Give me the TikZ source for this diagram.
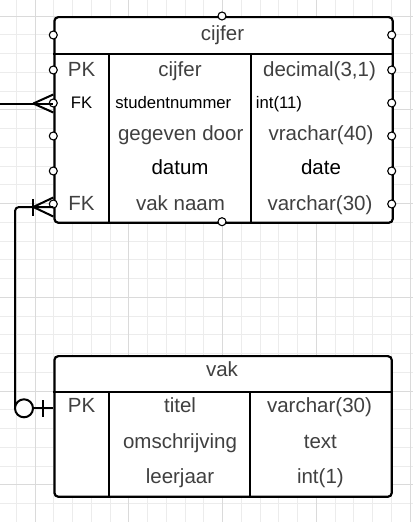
\documentclass[tikz,border=0pt]{standalone}
\usepackage{fontspec}
\setmainfont{Liberation Sans}
\definecolor{txtgray}{RGB}{64,64,64}
\definecolor{minorgray}{RGB}{236,236,236}
\definecolor{majorgray}{RGB}{218,218,218}
\begin{document}
\begin{tikzpicture}[x=1pt,y=1pt,
        field/.style={anchor=base,inner sep=0pt,text=txtgray,font=\fontsize{20.5}{24}\selectfont},
        small/.style={field,text=black,font=\fontsize{16.7}{20}\selectfont},
        dark/.style={field,text=black},
        table/.style={draw=black,fill=white,line width=2.2pt,rounded corners=4pt,inner sep=0pt,anchor=north west},
        rule/.style={line width=2.2pt},
        port/.style={draw=black,fill=white,line width=1.1pt},
        conn/.style={line width=2pt}]
    \useasboundingbox (0,0) rectangle (413,-522);
    \fill[white] (0,0) rectangle (413,-522);
    % grid paper
    \draw[minorgray,line width=1pt,shift={(16.25,-16)}] (-16.25,16) grid[step=18.75] (396.75,-506);
    \draw[majorgray,line width=1pt,shift={(35,-16)}] (-35,16) grid[step=93.75] (378,-506);

    \begin{scope}
        \node[table,minimum width=338.4pt,minimum height=205.7pt] (cijfer) at (53.3,-16) {};
        \draw[rule] (53.3,-54.3) -- (391.7,-54.3);
        \draw[rule] (109.3,-54.3) -- (109.3,-221.7);
        \draw[rule] (250.7,-54.3) -- (250.7,-221.7);

        \node[field] (cijferhead) at (222.5,-40.7) {cijfer};

        \node[field] (cpk) at (81.5,-76) {PK};
        \node[small] (cfk1) at (81.5,-108) {FK};
        \node[field] (cfk2) at (81.5,-210) {FK};

        \node[field] (ccijfer) at (180,-76) {cijfer};
        \node[small] (cstudent) at (173.3,-108) {studentnummer};
        \node[field] (cdoor) at (180.7,-140) {gegeven door};
        \node[dark] (cdatum) at (180,-174.3) {datum};
        \node[field] (cvak) at (180.5,-210) {vak naam};

        \node[field] (tcijfer) at (319.5,-76) {decimal(3,1)};
        \node[small,anchor=base west] (tstudent) at (255.7,-108) {int(11)};
        \node[field] (tdoor) at (321,-140) {vrachar(40)};
        \node[dark] (tdatum) at (321,-174.3) {date};
        \node[field] (tvak) at (320,-210) {varchar(30)};

        \draw[port] (222,-16) circle[radius=4pt];
        \draw[port] (222,-221.7) circle[radius=4pt];
        \draw[port] (53.3,-35) circle[radius=4pt];
        \draw[port] (53.3,-70) circle[radius=4pt];
        \draw[port] (53.3,-103) circle[radius=4pt];
        \draw[port] (53.3,-136) circle[radius=4pt];
        \draw[port] (53.3,-171) circle[radius=4pt];
        \draw[port] (53.3,-204) circle[radius=4pt];
        \draw[port] (391.7,-35) circle[radius=4pt];
        \draw[port] (391.7,-70) circle[radius=4pt];
        \draw[port] (391.7,-103) circle[radius=4pt];
        \draw[port] (391.7,-136) circle[radius=4pt];
        \draw[port] (391.7,-171) circle[radius=4pt];
        \draw[port] (391.7,-204) circle[radius=4pt];
    \end{scope}

    \begin{scope}
        \node[table,minimum width=337.4pt,minimum height=140.7pt] (vak) at (53.3,-355) {};
        \draw[rule] (53.3,-392.3) -- (390.7,-392.3);
        \draw[rule] (109.3,-392.3) -- (109.3,-495.7);
        \draw[rule] (250,-392.3) -- (250,-495.7);

        \node[field] (vakhead) at (222,-376.7) {vak};

        \node[field] (vpk) at (81.5,-412.7) {PK};
        \node[field] (vtitel) at (180,-412.7) {titel};
        \node[field] (vomschr) at (180,-448.3) {omschrijving};
        \node[field] (vleerjaar) at (180,-483.3) {leerjaar};

        \node[field] (ttitel) at (319.5,-412.7) {varchar(30)};
        \node[field] (tomschr) at (320.4,-448.3) {text};
        \node[field] (tleerjaar) at (320.4,-483.3) {int(1)};
    \end{scope}

    % studentnummer: many
    \coordinate (from) at (0,-103.5);
    \coordinate (snfk) at (cijfer.west |- from);
    \draw[conn] (from) -- (snfk);
    \draw[conn] (snfk) ++(-20,0) -- ++(20,9);
    \draw[conn] (snfk) ++(-20,0) -- ++(20,-9);

    % vak naam -> titel: one or many / zero or one
    \coordinate (vkfk) at (53.3,-207);
    \coordinate (ring) at (24,-408.3);
    \coordinate (vpkin) at (vak.west |- ring);
    \draw[conn,rounded corners=4pt] (vkfk) -| (15,-408.3);
    \draw[conn] (vkfk) ++(-20,0) -- ++(20,9.5);
    \draw[conn] (vkfk) ++(-20,0) -- ++(20,-9.5);
    \draw[conn] (vkfk) ++(-20,-8.5) -- ++(0,17);
    \draw[conn,fill=white] (ring) circle[radius=9pt];
    \draw[conn] (ring) ++(9,0) -- (vpkin);
    \draw[conn] (vpkin) ++(-10.6,-8.3) -- ++(0,16.6);
\end{tikzpicture}
\end{document}
